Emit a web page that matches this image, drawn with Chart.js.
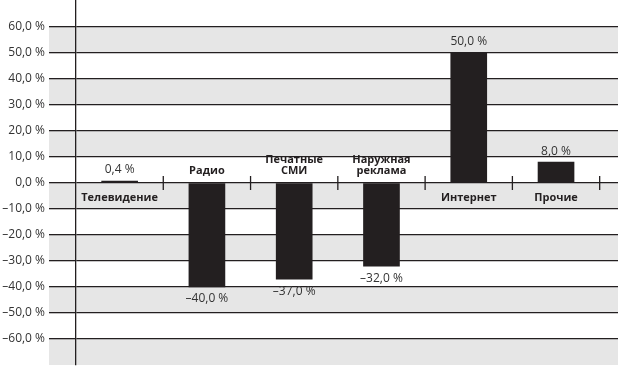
<!DOCTYPE html>
<html>
<head>
<meta charset="utf-8">
<script src="https://cdn.jsdelivr.net/npm/chart.js@4"></script>
<style>
  html, body { margin: 0; padding: 0; background: #fff; }
  #wrap { width: 618px; height: 366px; }
</style>
</head>
<body>
<div id="wrap"><canvas id="chart"></canvas></div>
<script>
// Data
const categories = [
  ["Телевидение"],
  ["Радио"],
  ["Печатные", "СМИ"],
  ["Наружная", "реклама"],
  ["Интернет"],
  ["Прочие"]
];
const values = [0.4, -40, -37, -32, 50, 8];
const yTicks = [-60, -50, -40, -30, -20, -10, 0, 10, 20, 30, 40, 50, 60];

const ink = "#231f20";
const band = "#e6e6e6";
const fontFamily = "'Open Sans', 'Noto Sans', sans-serif";

function fmt(v) {
  const s = Math.abs(v).toFixed(1).replace(".", ",") + " %";
  return v < 0 ? "–" + s : s;
}

// grey bands behind the grid
const bandsPlugin = {
  id: "bands",
  beforeDraw(chart) {
    const { ctx, chartArea, scales } = chart;
    const y = scales.y;
    ctx.save();
    ctx.fillStyle = band;
    for (let v = -70; v < 70; v += 20) {
      const top = y.getPixelForValue(v + 10);
      const bottom = y.getPixelForValue(v);
      ctx.fillRect(chartArea.left - 27, top, chartArea.right - chartArea.left + 27, bottom - top);
    }
    ctx.restore();
  }
};

// ticks on zero line, value labels, category names
const labelsPlugin = {
  id: "labels",
  afterDatasetsDraw(chart) {
    const { ctx, scales } = chart;
    const x = scales.x;
    const y0 = scales.y.getPixelForValue(0);
    ctx.save();
    ctx.strokeStyle = ink;
    ctx.lineWidth = 1.3;
    for (let i = 1; i <= categories.length; i++) {
      const px = x.getPixelForValue(i);
      ctx.beginPath();
      ctx.moveTo(px, y0 - 7);
      ctx.lineTo(px, y0 + 7);
      ctx.stroke();
    }
    ctx.textAlign = "center";
    ctx.textBaseline = "middle";
    const bars = chart.getDatasetMeta(0).data;
    bars.forEach((bar, i) => {
      const v = values[i];
      ctx.fillStyle = "#333";
      ctx.font = "12px " + fontFamily;
      if (v >= 0) ctx.fillText(fmt(v), bar.x, bar.y - 11);
      else ctx.fillText(fmt(v), bar.x, bar.y + 12);

      ctx.fillStyle = ink;
      ctx.font = "bold 11px " + fontFamily;
      const lines = categories[i];
      if (v >= 0) {
        lines.forEach((l, k) => ctx.fillText(l, bar.x, y0 + 15 + k * 11));
      } else {
        lines.forEach((l, k) => ctx.fillText(l, bar.x, y0 - 12 - (lines.length - 1 - k) * 11));
      }
    });
    ctx.restore();
  }
};

new Chart(document.getElementById("chart"), {
  type: "bar",
  data: {
    datasets: [{
      data: values.map((v, i) => ({ x: i + 0.5, y: v })),
      backgroundColor: ink,
      barThickness: 36,
      minBarLength: 2
    }]
  },
  options: {
    responsive: true,
    maintainAspectRatio: false,
    animation: false,
    layout: { padding: { top: 1, bottom: 1, left: 0, right: 0 } },
    plugins: {
      legend: { display: false },
      tooltip: { enabled: false }
    },
    scales: {
      x: {
        type: "linear",
        min: 0,
        max: 6.21,
        offset: false,
        display: false
      },
      y: {
        min: -70,
        max: 70,
        afterFit(scale) {
          scale.width = 76;
          scale.paddingTop = 0;
          scale.paddingBottom = 0;
        },
        afterBuildTicks(scale) {
          scale.ticks = [-70].concat(yTicks, [70]).map(v => ({ value: v }));
        },
        ticks: {
          padding: 4,
          color: "#333",
          font: { family: fontFamily, size: 12 },
          callback: v => (Math.abs(v) >= 70 ? "" : fmt(v))
        },
        grid: {
          color: ctx => (ctx.tick && Math.abs(ctx.tick.value) >= 70 ? "rgba(0,0,0,0)" : ink),
          lineWidth: 1.3,
          tickLength: 27
        },
        border: { display: true, color: ink, width: 1.3 }
      }
    }
  },
  plugins: [bandsPlugin, labelsPlugin]
});
</script>
</body>
</html>
